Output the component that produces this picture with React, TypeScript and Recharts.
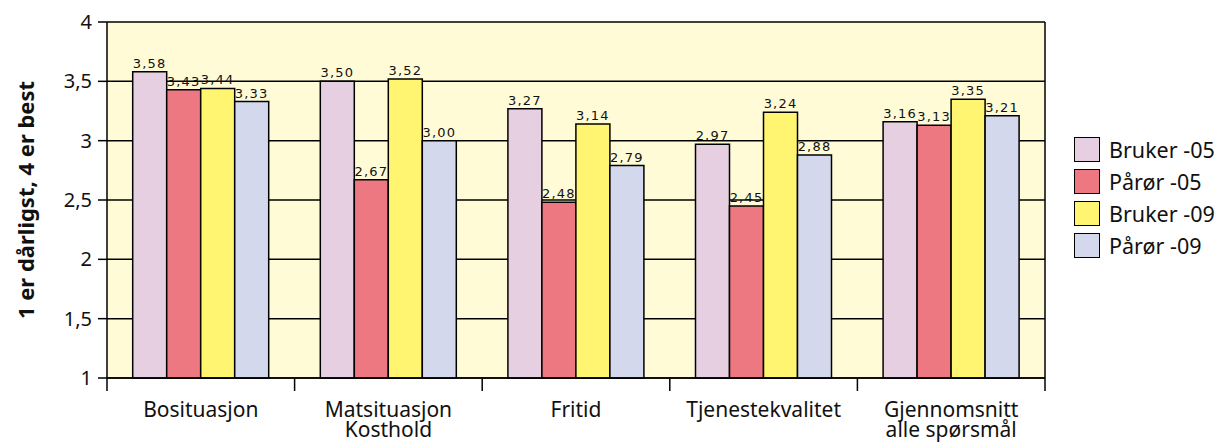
import { BarChart, Bar, XAxis, YAxis, CartesianGrid, LabelList } from 'recharts'

const categories = [
  ['Bosituasjon'],
  ['Matsituasjon', 'Kosthold'],
  ['Fritid'],
  ['Tjenestekvalitet'],
  ['Gjennomsnitt', 'alle spørsmål'],
]
const bruker05 = [3.58, 3.5, 3.27, 2.97, 3.16]
const paror05 = [3.43, 2.67, 2.48, 2.45, 3.13]
const bruker09 = [3.44, 3.52, 3.14, 3.24, 3.35]
const paror09 = [3.33, 3.0, 2.79, 2.88, 3.21]
const yTicks = [1, 1.5, 2, 2.5, 3, 3.5, 4]

const series = [
  { key: 'b05', name: 'Bruker -05', color: '#E6CFE1' },
  { key: 'p05', name: 'Pårør -05', color: '#EE7882' },
  { key: 'b09', name: 'Bruker -09', color: '#FFF571' },
  { key: 'p09', name: 'Pårør -09', color: '#D3D8EC' },
]

const data = categories.map((c, i) => ({
  name: c.join(' '),
  lines: c,
  b05: bruker05[i],
  p05: paror05[i],
  b09: bruker09[i],
  p09: paror09[i],
}))

const W = 1224
const H = 443
const PLOT_LEFT = 107
const PLOT_RIGHT = 1045
const PLOT_TOP = 22
const PLOT_BOTTOM = 378
const BAND = (PLOT_RIGHT - PLOT_LEFT) / categories.length
const FONT = '"Noto Sans", sans-serif'

const comma = (v: number) => String(v).replace('.', ',')

function CategoryTick(props: any) {
  const { x, y, payload, index } = props
  const i = payload.index ?? index
  const lines: string[] = data[i]?.lines ?? [payload.value]
  const last = i === categories.length - 1
  return (
    <g>
      <line x1={x - BAND / 2} x2={x - BAND / 2} y1={y} y2={y + 13} stroke="#000" strokeWidth={1.5} />
      {last && <line x1={x + BAND / 2} x2={x + BAND / 2} y1={y} y2={y + 13} stroke="#000" strokeWidth={1.5} />}
      <text x={x} y={y + 39} textAnchor="middle" fontFamily={FONT} fontSize={21} fill="#111">
        {lines.map((l, k) => (
          <tspan key={k} x={x} dy={k === 0 ? 0 : 20}>
            {l}
          </tspan>
        ))}
      </text>
    </g>
  )
}

export default function App() {
  return (
    <div style={{ position: 'absolute', left: 0, top: 0, width: W, height: H, background: '#fff' }}>
      <BarChart
        width={W}
        height={H}
        data={data}
        margin={{ top: PLOT_TOP, right: W - PLOT_RIGHT, bottom: 0, left: 0 }}
        barGap={0}
        barCategoryGap="13.7%"
      >
        <CartesianGrid
          fill="#FFFBD7"
          stroke="#000"
          strokeWidth={1.5}
          strokeOpacity={1}
          verticalCoordinatesGenerator={({ offset }: any) => [offset.left + offset.width]}
        />
        <XAxis
          dataKey="name"
          height={H - PLOT_BOTTOM}
          interval={0}
          tickLine={false}
          tickSize={0}
          tickMargin={0}
          axisLine={{ stroke: '#000', strokeWidth: 1.5 }}
          tick={<CategoryTick />}
        />
        <YAxis
          width={PLOT_LEFT}
          domain={[1, 4]}
          ticks={yTicks}
          tickFormatter={comma}
          tickSize={9}
          tickMargin={6}
          axisLine={{ stroke: '#000', strokeWidth: 1.5 }}
          tickLine={{ stroke: '#000', strokeWidth: 1.5 }}
          tick={{ fill: '#111', fontSize: 20, fontFamily: FONT }}
          label={{
            value: '1 er dårligst, 4 er best',
            angle: -90,
            position: 'insideLeft',
            offset: 26,
            style: { textAnchor: 'middle', fontFamily: FONT, fontWeight: 'bold', fontSize: 22, fill: '#111' },
          }}
        />
        {series.map((s) => (
          <Bar key={s.key} dataKey={s.key} name={s.name} fill={s.color} stroke="#000" strokeWidth={1.5} isAnimationActive={false}>
            <LabelList
              dataKey={s.key}
              position="top"
              offset={4}
              formatter={(v: any) => Number(v).toFixed(2).replace('.', ',')}
              style={{ fontFamily: '"DejaVu Sans", sans-serif', fontSize: 13, letterSpacing: 1.2, fill: '#111' }}
            />
          </Bar>
        ))}
      </BarChart>
      <div style={{ position: 'absolute', left: 1074, top: 133, fontFamily: FONT, fontSize: 21.5, color: '#111' }}>
        {series.map((s) => (
          <div key={s.key} style={{ display: 'flex', alignItems: 'center', height: 32 }}>
            <span
              style={{
                display: 'inline-block',
                width: 24,
                height: 23,
                background: s.color,
                border: '1.5px solid #000',
                marginRight: 9,
                flexShrink: 0,
              }}
            />
            <span style={{ lineHeight: '25px', whiteSpace: 'nowrap' }}>{s.name}</span>
          </div>
        ))}
      </div>
    </div>
  )
}
